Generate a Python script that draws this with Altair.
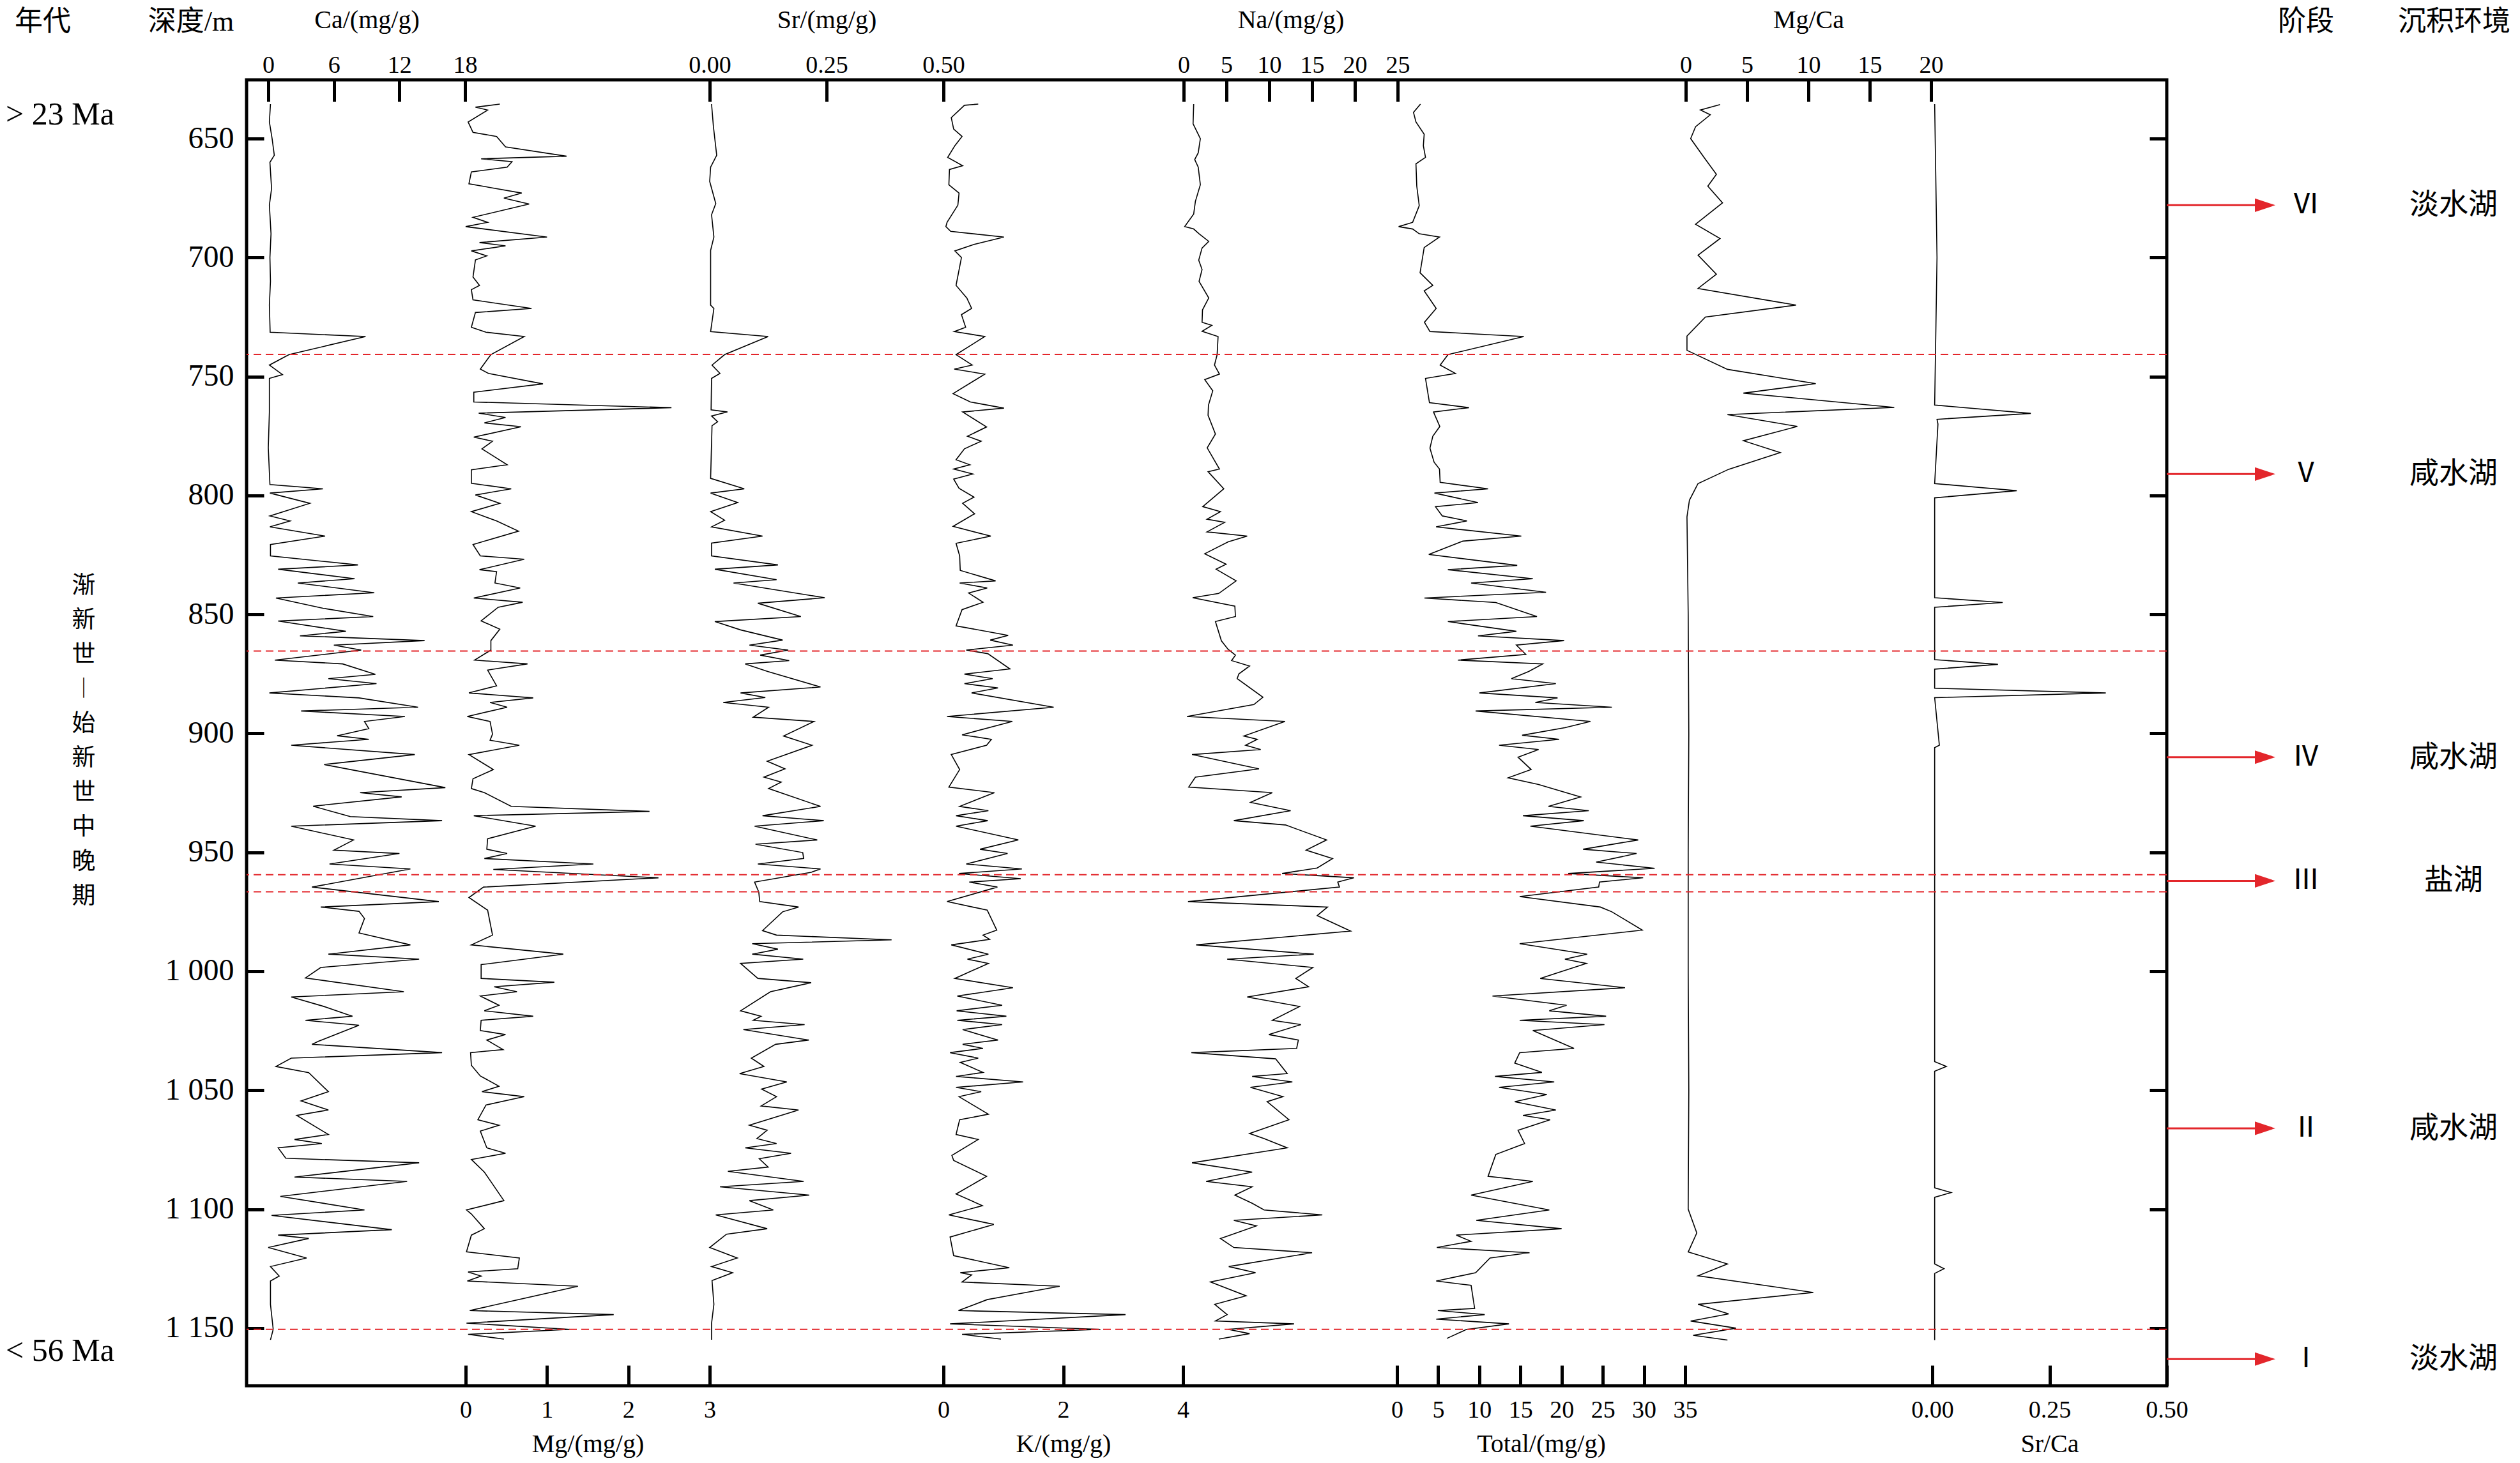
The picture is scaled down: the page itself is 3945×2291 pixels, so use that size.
import altair as alt
import pandas as pd

# ---------------- data ----------------
ca_depth = [635.5,643,650,657,660,671,678,690,700,710,720,731.4,733.2,740.8,745.2,749.2,750.8,765,780,795.4,797.2,799,803.3,808.6,810.7,813.2,817.1,820.6,825.4,829.2,831,835,836.8,840.9,843.1,847.4,850.9,852.8,857.1,859,861,862.9,865,869.2,870.8,875.2,877,879.1,883,885.1,889,890.6,892.9,895,898,901,902.5,905,908.9,913.1,922.8,924.9,926.7,930.6,935,936.7,939,944.8,949.1,950.5,954.9,957,964.6,970.7,973,974.8,977.8,983.9,988.9,992.8,994.9,998.4,1002.8,1008.6,1010.8,1014.8,1018.9,1020.6,1022.7,1029.4,1030.7,1034.2,1036.5,1040,1042.6,1050.6,1054.5,1058.3,1060.6,1068.6,1070.7,1072.4,1074.2,1078.6,1080.5,1086.5,1088.3,1094.6,1100.3,1102.6,1108.6,1110.9,1112.3,1116.1,1120.5,1124.1,1128.1,1130.2,1140,1150.5,1154.9]
ca = [0.2,0.1,0.35,0.55,0.15,0.3,0.1,0.25,0.15,0.2,0.1,0.17,8.9,1.9,0.1,1.3,0.1,0.1,0.0,0.15,5.0,0.15,3.8,0.15,2.0,0.15,5.2,0.2,0.2,8.2,0.9,7.9,2.7,9.7,0.7,5.0,9.6,0.9,7.1,2.9,14.3,6.0,8.5,0.6,6.8,9.8,5.5,9.9,0.1,8.3,13.7,3.0,12.5,8.8,9.2,6.3,9.2,2.1,13.4,5.1,16.2,8.4,12.2,4.1,7.5,15.9,2.1,7.8,6.0,12.0,5.6,13.0,4.0,15.6,4.8,8.3,8.8,8.3,13.0,5.5,13.8,4.8,3.4,12.4,2.1,5.1,7.7,3.4,8.3,4.6,4.0,15.9,2.1,0.7,3.7,5.5,3.0,5.5,2.6,5.5,2.4,4.9,0.9,1.6,13.8,2.4,12.7,1.1,8.8,0.3,11.3,0.9,3.7,0.0,3.5,0.2,1.0,0.2,0.2,0.45,0.2]

mg_depth = [635.5,636.8,638,643,647.4,649.1,653.5,657.4,658.5,659.7,662,664,669,672.9,675,677.5,683.1,685.2,687,691.4,693.7,695.1,697.2,699.3,701,708.2,711.7,713.5,717.8,721.4,723.1,729.3,731.4,733.2,740.8,746.9,748.7,753.1,756.6,760.7,763.1,765.4,767.2,769.5,771.1,775.5,777.2,780.4,787.1,789.2,794.9,797.2,799.8,803.3,806.8,810.7,815,820.6,825.4,826.8,831.2,832,836.8,838.9,843.1,844.9,847,852.7,856.2,861,865,869.2,870.8,873.4,880,883,885.1,887,889,892.9,895,900.3,902.9,905,908.9,915.2,919.1,923.2,924.9,930.7,932.8,934.6,939,944.3,948.7,950.5,952.6,954.9,957.2,960.7,964.6,969,974.3,984.8,988.9,992.8,997.2,1003,1004.6,1006.5,1008.6,1010.4,1014.3,1016.6,1018.9,1020.6,1024.9,1026.6,1028.9,1032.9,1034.2,1039.5,1044,1048.3,1050.6,1052.7,1056.2,1062.4,1064.7,1067.2,1074.2,1076.5,1079.1,1084.4,1096.4,1100.3,1102,1108.2,1110.9,1117.9,1120.5,1125,1126.4,1128.1,1130.2,1132.4,1142.6,1144.3,1147.9,1150.5,1152.6,1154.6]
mg = [0.42,0.12,0.27,0.03,0.09,0.38,0.49,1.24,0.19,0.57,0.51,0.07,0.04,0.69,0.47,0.78,0.09,0.27,0.0,1.0,0.17,0.49,0.07,0.26,0.12,0.09,0.17,0.07,0.09,0.81,0.12,0.07,0.25,0.72,0.31,0.18,0.28,0.95,0.1,0.1,2.53,0.16,0.49,0.23,0.68,0.1,0.33,0.2,0.51,0.07,0.07,0.56,0.12,0.42,0.07,0.38,0.65,0.09,0.18,0.72,0.17,0.38,0.36,0.67,0.1,0.7,0.4,0.19,0.42,0.31,0.31,0.11,0.76,0.27,0.38,0.04,0.83,0.3,0.51,0.02,0.3,0.33,0.3,0.66,0.04,0.34,0.09,0.07,0.23,0.56,2.26,0.1,0.86,0.27,0.26,0.51,0.23,1.57,0.34,2.37,0.22,0.04,0.27,0.33,0.07,1.2,0.19,0.19,1.09,0.35,0.63,0.18,0.41,0.23,0.83,0.19,0.18,0.49,0.26,0.46,0.06,0.07,0.18,0.41,0.2,0.72,0.25,0.15,0.41,0.18,0.26,0.49,0.07,0.23,0.47,0.01,0.07,0.23,0.07,0.01,0.66,0.64,0.03,0.19,0.02,1.38,0.05,1.82,0.01,1.28,0.03,0.47]

sr_depth = [635.5,645,657,662,668,677.3,682,691.4,697,720,721.4,731.1,733.2,740.8,745.2,748.7,750.8,764,764.9,766.6,769,770.7,792.8,797.2,799,803,806.8,810.4,813.2,817.1,820,825.4,829.2,831,835.4,836.8,843,845.3,850.9,853,856.5,860.8,862.9,865,867.1,869.4,870.8,874,880.5,883,884.9,887,889,893.2,895,901.1,905,911.7,914.9,918.4,920.5,923.2,930.7,934.6,936.7,939,944.8,946.6,950.1,952.6,954.9,957,958.4,962.5,966.7,970.7,973,975,982.9,984.8,986.8,988.4,990.7,992.8,994.9,996.7,1003,1004.8,1008.6,1016.6,1018.9,1020.6,1022.4,1024.5,1028.9,1030.7,1036.5,1040,1043,1046.5,1049.5,1052.7,1056.6,1058.3,1064.7,1066.8,1070.3,1072.4,1074.2,1076.5,1078.8,1082.3,1084.1,1088.3,1090.6,1094.1,1096.4,1100.3,1102.4,1108.2,1110.5,1116.1,1120.5,1124.1,1126.7,1130,1140,1148,1154.9]
sr = [0.004,0.008,0.015,0.002,0.0,0.013,0.004,0.009,0.002,0.002,0.009,0.002,0.125,0.032,0.005,0.022,0.004,0.003,0.038,0.004,0.017,0.005,0.002,0.074,0.002,0.06,0.002,0.032,0.004,0.113,0.004,0.004,0.146,0.011,0.143,0.051,0.246,0.103,0.195,0.011,0.066,0.156,0.085,0.168,0.108,0.17,0.076,0.124,0.237,0.066,0.119,0.029,0.126,0.093,0.223,0.158,0.219,0.123,0.161,0.116,0.153,0.126,0.237,0.113,0.244,0.096,0.23,0.098,0.199,0.201,0.103,0.237,0.217,0.096,0.105,0.107,0.19,0.156,0.113,0.143,0.389,0.091,0.146,0.091,0.2,0.066,0.103,0.217,0.13,0.066,0.11,0.093,0.203,0.072,0.212,0.141,0.089,0.116,0.064,0.165,0.111,0.143,0.11,0.19,0.085,0.123,0.101,0.143,0.076,0.174,0.106,0.125,0.039,0.201,0.022,0.213,0.085,0.136,0.013,0.123,0.036,0.0,0.059,0.004,0.049,0.005,0.009,0.004,0.004]

k_depth = [635.5,636,641.2,646,649.1,653,657.9,661.4,663,669.4,672.9,678,685.2,687,689,691.4,694.5,697.2,700,711.7,717,721.4,724,729.3,731.1,733.2,740.8,745.2,746.9,749,757.2,760.7,763.3,764.9,771.2,775.1,777.2,780.4,785,787.1,788.9,791,793.1,797,800.7,803.3,807.7,813,817.1,820.1,825.4,831.5,835.9,836.8,838.9,841,844.9,848,854.8,858.8,860.8,862.9,865,866.5,872.9,875.1,877,879.1,880.9,883,889,892.9,895,900.6,902.5,905,908.9,915.2,922.6,924.9,930.7,932.5,934.6,936.7,939,944.8,948.7,950.5,954.9,957,958.9,961.1,962.5,964.6,970.7,974.3,982.7,984.8,986.6,988.9,992.8,994.9,996.7,1003,1006.9,1010.4,1014.3,1016.6,1018.9,1020.6,1022.4,1024.5,1028.9,1030.7,1032.4,1034.2,1036.5,1038.3,1042.5,1044.2,1046.5,1048.8,1050.6,1052.7,1060.1,1062.4,1068.6,1070.7,1077.4,1079.5,1086.2,1093.6,1098.5,1102.4,1106.4,1111.7,1119.5,1124.6,1126.7,1127.6,1130.6,1132.4,1138,1142.6,1144.3,1148.2,1150.5,1152.6,1154.6]
k = [0.58,0.35,0.13,0.17,0.31,0.19,0.07,0.32,0.1,0.09,0.26,0.24,0.06,0.04,0.12,1.01,0.51,0.19,0.3,0.21,0.39,0.47,0.3,0.37,0.18,0.69,0.21,0.48,0.18,0.69,0.16,0.45,1.01,0.32,0.72,0.4,0.63,0.35,0.21,0.44,0.17,0.49,0.17,0.26,0.51,0.32,0.52,0.16,0.79,0.21,0.27,0.28,0.87,0.27,0.73,0.42,0.66,0.31,0.21,1.08,0.78,1.16,0.38,0.74,1.11,0.35,0.82,0.35,0.91,0.47,1.84,0.06,1.15,0.31,0.8,0.72,0.13,0.27,0.09,0.85,0.27,0.75,0.21,0.74,0.21,1.25,0.61,1.07,0.38,1.31,0.26,1.29,0.43,0.9,0.06,0.73,0.89,0.66,0.77,0.13,0.75,0.4,0.75,0.19,1.16,0.23,0.98,0.22,1.05,0.23,0.98,0.32,0.91,0.32,0.66,0.11,0.58,0.28,0.66,0.21,1.33,0.21,0.63,0.26,0.75,0.27,0.21,0.58,0.14,0.17,0.72,0.21,0.65,0.09,0.84,0.11,0.17,1.1,0.28,0.47,0.31,1.94,0.73,0.25,3.04,0.11,2.62,0.31,0.96]

na_depth = [635.5,643.8,650,656,658.8,662,669.4,676.4,681.7,687,688,690,693.2,696,701.1,705,710,717,722,727.2,728.5,731,733.2,740.8,745.2,749,751.3,756,762,766.3,774.2,780,788.9,790,797.2,804.7,806.8,810,811.3,815.3,817.1,819.5,824.5,828.9,831,835.9,841.2,843,846.5,850.9,853,861.1,864.7,867.1,869.4,871.7,875,877,884.8,887.9,892.9,895,901.1,902.5,905,906.8,908.9,914.9,918.4,922.6,924.9,929,932.5,936.7,938.5,944.8,949.1,952.6,956.6,958.9,960.7,962.5,964.6,970.7,973,976.6,983.1,988.9,992.8,994.9,998.4,1003,1006.5,1010.8,1014.8,1020.6,1022.4,1026.6,1028.9,1032.4,1034.2,1036.8,1043,1044.2,1046.5,1048.8,1052.7,1054.8,1062.4,1068.2,1070.3,1074.2,1080.5,1084.4,1088.3,1090.6,1094.1,1097.5,1100.3,1102.4,1104.7,1107,1112.3,1116.1,1118.3,1124.1,1126.7,1130.6,1136.4,1140,1144.3,1147,1148.2,1150.5,1152.3,1154.6]
na = [1.17,1.1,1.95,1.7,1.29,1.7,1.95,1.37,1.17,0.12,1.17,1.8,2.93,2.15,1.76,2.15,1.8,2.93,2.2,2.15,3.3,2.15,4.02,3.91,3.6,4.18,2.46,3.4,2.9,2.85,3.71,2.75,4.18,2.85,4.69,2.23,4.3,2.73,4.8,2.73,7.42,5.2,2.46,4.96,3.79,6.13,4.1,1.05,5.98,6.05,3.71,4.41,5.2,6.05,5.6,7.7,6.45,6.25,9.26,8.2,0.39,11.84,7.03,8.6,7.23,9.0,0.98,8.8,1.37,0.59,10.35,7.81,12.5,5.86,11.9,16.7,14.3,17.4,15.6,11.5,19.9,18.0,18.2,0.51,16.8,15.6,19.5,1.45,15.2,5.08,15.1,13.1,14.6,7.42,13.55,10.35,13.7,9.96,13.4,13.2,0.9,10.74,12.1,8.0,12.7,7.8,11.6,9.75,12.3,7.7,9.4,12.1,0.98,8.0,2.62,8.0,5.98,8.0,9.4,16.2,5.86,8.5,4.3,5.86,15.0,5.27,8.4,3.13,7.3,3.63,5.08,3.71,12.9,5.2,7.7,4.1]

tot_depth = [635.5,639,643,648.2,653,657.9,660.6,670,678.2,685.2,687,688,690,691.4,695.8,706.4,711.7,714,721.4,727.2,731.1,733.2,740.8,745.2,748.7,750.8,761,763.1,764.9,771,775.1,780.1,786,788.9,794.5,797.2,799,803,804.7,808.6,810.7,813.2,817.1,819.2,824.8,829.4,831.2,835,836.8,840.7,843.1,845,850.9,853,857.1,859,861,862.9,866.8,869.2,870.8,874,877,879.1,883,885.1,887,889,890.6,895,897.6,900.8,902.5,905,906.8,910,915.2,918.7,921.5,926.7,930.7,932.5,934.6,936.7,939,944.8,948.7,950.5,954.1,956.7,958.9,960.7,962.5,964.6,968.6,973,975,982.7,988.4,992.8,994.9,996.7,1003,1006.9,1010.4,1014.3,1016.6,1018.9,1020.6,1022.4,1024.9,1032.4,1034.2,1038.6,1042.5,1044.2,1046.5,1048.8,1051.8,1054.8,1058.3,1060.6,1062.4,1066.8,1072.4,1077,1086.2,1088.3,1094.1,1100.3,1104.7,1108.2,1110.9,1113.5,1116.1,1118.3,1120.5,1126.7,1130.2,1132,1141.7,1142.6,1144.3,1146.2,1148.2,1150.6,1154.3]
tot = [2.85,2.0,2.3,3.3,3.2,3.46,2.3,2.4,2.7,1.9,0.2,1.9,2.7,5.16,3.3,2.8,4.35,3.3,4.76,3.33,4.0,15.4,6.2,5.24,7.1,3.46,3.94,8.74,4.43,5.2,4.35,4.0,4.5,5.16,5.24,11.06,4.55,9.84,4.67,5.5,8.5,4.75,15.1,8.0,3.86,14.6,6.18,16.5,9.0,18.1,3.33,12.0,17.0,6.18,14.5,9.84,20.3,14.5,15.65,7.4,17.7,16.0,13.9,19.3,10.0,19.5,16.8,26.1,9.55,23.5,20.4,15.2,19.7,12.4,17.2,14.7,16.3,13.5,17.2,22.3,18.4,23.3,15.3,22.7,16.2,29.3,22.6,29.1,24.2,31.3,20.8,29.9,24.6,24.5,14.9,24.7,26.1,29.8,14.9,23.1,20.4,23.0,17.4,27.7,11.6,20.6,18.5,25.4,14.9,25.2,16.5,21.5,14.9,14.3,17.6,11.9,19.1,12.4,18.2,14.3,19.3,15.3,18.6,14.7,15.5,12.0,11.06,16.5,9.0,18.5,9.63,20.0,7.2,9.0,4.84,16.1,11.3,9.55,4.76,9.0,9.43,4.96,10.65,4.76,13.6,8.4,6.06]

mgca_depth = [635.7,638,640,645,650,658,665,670,677,686,692,699,707,713,720,725,733,739,747,753,757,763,766,771,777,782,789,795,802,809,850,900,950,1000,1050,1100,1110,1118,1123,1128,1135,1140,1144,1147,1150,1153,1155]
mgca = [2.8,1.2,2.0,0.8,0.4,1.5,2.5,1.8,3.0,0.8,2.8,1.0,2.5,1.0,9.0,1.6,0.1,0.1,3.4,10.6,4.7,17.0,3.4,9.1,4.7,7.7,3.5,1.0,0.3,0.1,0.2,0.25,0.2,0.2,0.25,0.2,0.9,0.2,3.4,1.0,10.4,1.0,3.5,0.4,4.1,0.6,3.4]

srca_depth = [635.5,700,762,765.5,768,770,795,798,801,843,845,847,869,871,873,881,883,885,905,906,1038,1040,1042,1091,1093,1095,1123,1125,1127,1155]
srca = [0.005,0.01,0.005,0.21,0.01,0.012,0.005,0.18,0.005,0.005,0.15,0.005,0.005,0.14,0.005,0.005,0.37,0.005,0.015,0.005,0.005,0.03,0.005,0.005,0.04,0.005,0.005,0.025,0.005,0.005]

boundary_depths = [740.7, 865.4, 959.4, 966.6, 1150.5]
stage_depths = [678, 791, 910, 962, 1066, 1163]
stage_names = ["Ⅵ", "Ⅴ", "Ⅳ", "Ⅲ", "Ⅱ", "Ⅰ"]
stage_env = ["淡水湖", "咸水湖", "咸水湖", "盐湖", "咸水湖", "淡水湖"]
depth_ticks = [650, 700, 750, 800, 850, 900, 950, 1000, 1050, 1100, 1150]
age_depths = [640, 1159.7]
age_labels = ["> 23 Ma", "< 56 Ma"]
epoch_chars = ["渐", "新", "世", "︱", "始", "新", "世", "中", "晚", "期"]
epoch_char_depths = [838.1, 852.6, 867.1, 881.6, 896.1, 910.5, 925.0, 939.5, 954.0, 968.5]
headers = ["年代", "深度/m", "阶段", "沉积环境"]

# ---------------- layout ----------------
W, H = 3006, 2045
DEPTH_DOMAIN = [625.3, 1174.2]
FONT = "Liberation Serif, Noto Sans CJK SC, DejaVu Serif"
CJK = "Noto Sans CJK SC, Liberation Serif"
RED = "#e3262b"


def ysc():
    return alt.Scale(domain=DEPTH_DOMAIN, reverse=True, nice=False, zero=False)


def xaxis(orient, values, title, fmt):
    common = dict(values=values, format=fmt, title=title, domain=False, grid=False,
                  tickColor="black", tickWidth=5, labelFont=FONT, labelColor="black",
                  labelFlush=False, labelOverlap=False, labelBound=False,
                  titleFont=FONT, titleFontSize=40, titleFontWeight="normal", titleColor="black")
    if orient == "top":
        return alt.Axis(orient="top", offset=-34, tickSize=34, labelFontSize=38,
                        labelPadding=4, titlePadding=32, **common)
    return alt.Axis(orient="bottom", offset=-32, tickSize=32, labelFontSize=38,
                    labelPadding=19, titlePadding=14, **common)


def series(depths, vals, domain, rng, axis, yaxis=None):
    df = pd.DataFrame({"depth": depths, "v": vals})
    return alt.Chart(df).mark_line(color="black", strokeWidth=1.6).encode(
        x=alt.X("v:Q", scale=alt.Scale(domain=domain, range=rng, nice=False, zero=False), axis=axis),
        y=alt.Y("depth:Q", scale=ysc(), axis=yaxis),
        order="depth:Q",
    )


left_axis = alt.Axis(orient="left", values=depth_ticks, offset=-27, tickSize=27, tickWidth=5,
                     tickColor="black", domain=False, grid=False, title=None,
                     labelFont=FONT, labelFontSize=48, labelPadding=20, labelColor="black",
                     labelOverlap=False, labelFlush=False,
                     labelExpr="datum.value >= 1000 ? '1 ' + substring(toString(datum.value), 1) : toString(datum.value)")
right_axis = alt.Axis(orient="right", values=depth_ticks, offset=-27, tickSize=27, tickWidth=5,
                      tickColor="black", domain=False, grid=False, title=None, labels=False)

l_ca = series(ca_depth, ca, [0, 18], [34, 342], xaxis("top", [0, 6, 12, 18], "Ca/(mg/g)", "d"), left_axis)
l_mg = series(mg_depth, mg, [0, 3], [343, 725], xaxis("bottom", [0, 1, 2, 3], "Mg/(mg/g)", "d"))
l_sr = series(sr_depth, sr, [0, 0.5], [725, 1091], xaxis("top", [0, 0.25, 0.5], "Sr/(mg/g)", ".2f"))
l_k = series(k_depth, k, [0, 4], [1091, 1466], xaxis("bottom", [0, 2, 4], "K/(mg/g)", "d"))
l_na = series(na_depth, na, [0, 25], [1467, 1802], xaxis("top", [0, 5, 10, 15, 20, 25], "Na/(mg/g)", "d"))
l_tot = series(tot_depth, tot, [0, 35], [1801, 2252], xaxis("bottom", [0, 5, 10, 15, 20, 25, 30, 35], "Total/(mg/g)", "d"))
l_mgca = series(mgca_depth, mgca, [0, 20], [2253, 2637], xaxis("top", [0, 5, 10, 15, 20], "Mg/Ca", "d"))
l_srca = series(srca_depth, srca, [0, 0.5], [2639, 3006], xaxis("bottom", [0, 0.25, 0.5], "Sr/Ca", ".2f"))

bdf = pd.DataFrame({"depth": boundary_depths})
l_bound = alt.Chart(bdf).mark_rule(color=RED, strokeWidth=2, strokeDash=[12, 7]).encode(
    y=alt.Y("depth:Q", scale=ysc(), axis=right_axis))

sdf = pd.DataFrame({"depth": stage_depths, "name": stage_names, "env": stage_env})
l_arrow = alt.Chart(sdf).mark_rule(color=RED, strokeWidth=3).encode(
    x=alt.value(W), x2=alt.value(3148), y=alt.Y("depth:Q", scale=ysc(), axis=None))
l_head = alt.Chart(sdf).mark_point(shape="M-1,-0.66L1,0L-1,0.66Z", filled=True, size=1024,
                                   color=RED, opacity=1).encode(
    x=alt.value(3160), y=alt.Y("depth:Q", scale=ysc(), axis=None))
l_stage = alt.Chart(sdf).mark_text(font=FONT, fontSize=44, color="black", baseline="middle").encode(
    x=alt.value(3224), y=alt.Y("depth:Q", scale=ysc(), axis=None), text="name:N")
l_env = alt.Chart(sdf).mark_text(font=CJK, fontSize=46, color="black", baseline="middle").encode(
    x=alt.value(3455), y=alt.Y("depth:Q", scale=ysc(), axis=None), text="env:N")

hdf = pd.DataFrame({"t": headers, "x": [-319, -87, 3224, 3456]})
l_head_txt = alt.Chart(hdf).mark_text(font=FONT, fontSize=44, color="black", baseline="middle").encode(
    x=alt.X("x:Q", scale=None), y=alt.value(-90), text="t:N")

adf = pd.DataFrame({"depth": age_depths, "t": age_labels})
l_age = alt.Chart(adf).mark_text(font=FONT, fontSize=50, color="black", align="left", baseline="middle").encode(
    x=alt.value(-377), y=alt.Y("depth:Q", scale=ysc(), axis=None), text="t:N")

vdf = pd.DataFrame({"depth": epoch_char_depths, "t": epoch_chars})
l_vert = alt.Chart(vdf).mark_text(font=CJK, fontSize=37, color="black", baseline="middle").encode(
    x=alt.value(-255), y=alt.Y("depth:Q", scale=ysc(), axis=None), text="t:N")

chart = alt.layer(
    l_ca, l_mg, l_sr, l_k, l_na, l_tot, l_mgca, l_srca,
    l_bound, l_arrow, l_head, l_stage, l_env, l_head_txt, l_age, l_vert,
).resolve_scale(x="independent", y="independent").properties(
    width=W, height=H,
    padding={"left": 378, "top": 117, "right": 545, "bottom": 113},
    autosize=alt.AutoSizeParams(type="none"),
    background="white",
).configure_view(stroke="black", strokeWidth=5)

chart.save("out.html", embed_options={"renderer": "svg", "actions": False})
